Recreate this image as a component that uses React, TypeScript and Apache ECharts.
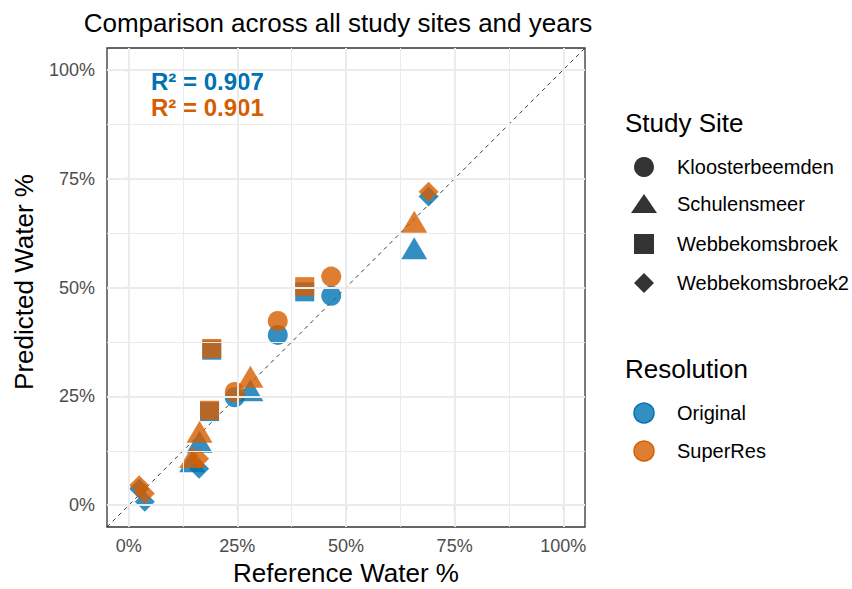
import React, { useEffect, useRef } from "react";
import * as echarts from "echarts";

// ---- Data (values in %) ----
const siteNames = ["Kloosterbeemden", "Schulensmeer", "Webbekomsbroek", "Webbekomsbroek2"];
const resolutionNames = ["Original", "SuperRes"];

const klooReference = [24.4, 34.3, 46.6];
const klooOriginal = [24.8, 39.1, 48.1];
const klooSuperRes = [26.0, 42.3, 52.5];

const schuReference = [14.6, 16.3, 28.0, 65.7];
const schuOriginal = [10.1, 14.6, 26.4, 59.0];
const schuSuperRes = [11.1, 16.9, 29.5, 65.1];

const webReference = [18.6, 19.1, 40.5];
const webOriginal = [21.5, 35.6, 49.0];
const webSuperRes = [21.8, 36.0, 50.2];

const web2Reference = [2.4, 3.7, 16.2, 69.0];
const web2Original = [3.8, 0.8, 8.4, 70.9];
const web2SuperRes = [4.6, 2.7, 10.7, 72.0];

const r2Labels = ["R² = 0.907", "R² = 0.901"];
const tickValues = [0, 25, 50, 75, 100];
const minorGridValues = [12.5, 37.5, 62.5, 87.5];
const axisRange = [-5, 105];

const FONT = "'Liberation Sans', Arial, Helvetica, sans-serif";
const resColors = ["#0072B2", "#D55E00"];
const resFills = ["rgba(0,114,178,0.8)", "rgba(213,94,0,0.8)"];

const siteRefs = [klooReference, schuReference, webReference, web2Reference];
const siteVals = [
  [klooOriginal, klooSuperRes],
  [schuOriginal, schuSuperRes],
  [webOriginal, webSuperRes],
  [web2Original, web2SuperRes],
];
const siteSymbols = ["circle", "triangle", "rect", "diamond"];
const siteSymbolSizes: any[] = [20, [26, 22], 19, [20, 20]];

function buildOption() {
  const series: any[] = [];
  // gridlines
  series.push({
    type: "line",
    data: [],
    z: 1,
    silent: true,
    markLine: {
      silent: true,
      symbol: ["none", "none"],
      label: { show: false },
      animation: false,
      lineStyle: { color: "#EBEBEB", type: "solid" },
      emphasis: { disabled: true },
      data: [
        ...minorGridValues.map((v) => ({ xAxis: v, lineStyle: { width: 1, color: "#EBEBEB", type: "solid" } })),
        ...minorGridValues.map((v) => ({ yAxis: v, lineStyle: { width: 1, color: "#EBEBEB", type: "solid" } })),
        ...tickValues.map((v) => ({ xAxis: v, lineStyle: { width: 1.9, color: "#EBEBEB", type: "solid" } })),
        ...tickValues.map((v) => ({ yAxis: v, lineStyle: { width: 1.9, color: "#EBEBEB", type: "solid" } })),
      ],
    },
  });
  // 1:1 line
  series.push({
    type: "line",
    data: [
      [axisRange[0], axisRange[0]],
      [axisRange[1], axisRange[1]],
    ],
    symbol: "none",
    silent: true,
    z: 2,
    lineStyle: { color: "#222", width: 0.9, type: [4, 4] },
  });
  for (let r = 0; r < resolutionNames.length; r++) {
    for (let s = 0; s < siteNames.length; s++) {
      series.push({
        name: siteNames[s] + " " + resolutionNames[r],
        type: "scatter",
        z: 3 + r,
        symbol: siteSymbols[s],
        symbolSize: siteSymbolSizes[s],
        data: siteRefs[s].map((x, i) => [x, siteVals[s][r][i]]),
        itemStyle: { color: resColors[r], opacity: 0.8 },
      });
    }
  }

  const axisCommon = (isX: boolean) => ({
    type: "value",
    min: axisRange[0],
    max: axisRange[1],
    axisLine: { show: false },
    axisTick: {
      show: true,
      customValues: tickValues,
      length: 5,
      lineStyle: { color: "#333333", width: 1.1 },
    },
    axisLabel: {
      customValues: tickValues,
      formatter: "{value}%",
      color: "#4D4D4D",
      fontSize: 18,
      fontFamily: FONT,
      margin: isX ? 10 : 12,
    },
    splitLine: { show: false },
  });

  const legendSymbolX = 644;
  const legendLabelX = 677;
  const siteYs = [167, 204, 244, 283];
  const resYs = [413, 451];
  const dark = "#333333";

  const siteSymbolGraphics = [
    { type: "circle", shape: { cx: legendSymbolX, cy: siteYs[0], r: 10 }, style: { fill: dark } },
    {
      type: "polygon",
      shape: {
        points: [
          [legendSymbolX, siteYs[1] - 10],
          [legendSymbolX - 13, siteYs[1] + 9],
          [legendSymbolX + 13, siteYs[1] + 9],
        ],
      },
      style: { fill: dark },
    },
    { type: "rect", shape: { x: legendSymbolX - 10, y: siteYs[2] - 10, width: 20, height: 20 }, style: { fill: dark } },
    {
      type: "polygon",
      shape: {
        points: [
          [legendSymbolX, siteYs[3] - 10],
          [legendSymbolX + 10, siteYs[3]],
          [legendSymbolX, siteYs[3] + 10],
          [legendSymbolX - 10, siteYs[3]],
        ],
      },
      style: { fill: dark },
    },
  ];

  const graphic: any[] = [
    {
      type: "text",
      x: 338,
      y: 23,
      style: { text: "Comparison across all study sites and years", font: `26px ${FONT}`, fill: "#000", textAlign: "center", textVerticalAlign: "middle" },
    },
    {
      type: "text",
      x: 346,
      y: 573,
      style: { text: "Reference Water %", font: `26px ${FONT}`, fill: "#000", textAlign: "center", textVerticalAlign: "middle" },
    },
    {
      type: "text",
      x: 24,
      y: 282,
      rotation: Math.PI / 2,
      style: { text: "Predicted Water %", font: `26px ${FONT}`, fill: "#000", textAlign: "center", textVerticalAlign: "middle" },
    },
    {
      type: "text",
      x: 151,
      y: 81,
      style: { text: r2Labels[0], font: `bold 24px ${FONT}`, fill: resColors[0], textAlign: "left", textVerticalAlign: "middle" },
    },
    {
      type: "text",
      x: 151,
      y: 107,
      style: { text: r2Labels[1], font: `bold 24px ${FONT}`, fill: resColors[1], textAlign: "left", textVerticalAlign: "middle" },
    },
    {
      type: "text",
      x: 625,
      y: 123,
      style: { text: "Study Site", font: `26px ${FONT}`, fill: "#000", textAlign: "left", textVerticalAlign: "middle" },
    },
    ...siteSymbolGraphics,
    ...siteNames.map((n, i) => ({
      type: "text",
      x: legendLabelX,
      y: siteYs[i],
      style: { text: n, font: `20px ${FONT}`, fill: "#000", textAlign: "left", textVerticalAlign: "middle" },
    })),
    {
      type: "text",
      x: 625,
      y: 369,
      style: { text: "Resolution", font: `26px ${FONT}`, fill: "#000", textAlign: "left", textVerticalAlign: "middle" },
    },
    ...resolutionNames.map((n, i) => ({
      type: "circle",
      shape: { cx: legendSymbolX, cy: resYs[i], r: 10 },
      style: { fill: resFills[i], stroke: resColors[i], lineWidth: 1.5 },
    })),
    ...resolutionNames.map((n, i) => ({
      type: "text",
      x: legendLabelX,
      y: resYs[i],
      style: { text: n, font: `20px ${FONT}`, fill: "#000", textAlign: "left", textVerticalAlign: "middle" },
    })),
  ];

  return {
    animation: false,
    backgroundColor: "#ffffff",
    textStyle: { fontFamily: FONT },
    grid: {
      left: 107,
      right: 267,
      top: 48,
      bottom: 62,
      show: true,
      borderColor: "#333333",
      borderWidth: 1.3,
      backgroundColor: "transparent",
      containLabel: false,
    },
    xAxis: axisCommon(true),
    yAxis: axisCommon(false),
    series,
    graphic,
  };
}

export default function App() {
  const ref = useRef<HTMLDivElement>(null);
  useEffect(() => {
    document.body.style.margin = "0";
    const chart = echarts.init(ref.current!, null, { renderer: "svg" });
    chart.setOption(buildOption() as any);
    return () => chart.dispose();
  }, []);
  return <div ref={ref} style={{ width: 852, height: 589 }} />;
}
